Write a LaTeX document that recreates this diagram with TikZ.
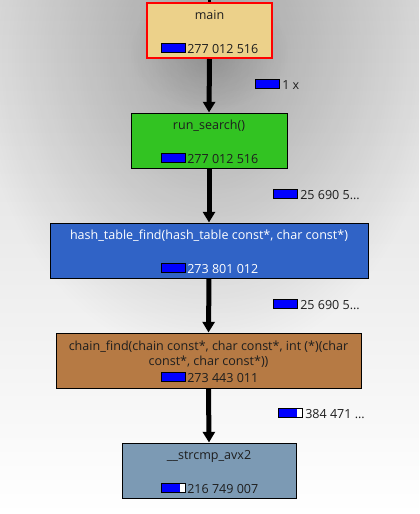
\documentclass[tikz,border=0pt]{standalone}
\usepackage{fontspec}
\setmainfont{Open Sans}
\usetikzlibrary{arrows.meta,fadings}
\tikzfading[name=radfade, inner color=transparent!0, outer color=transparent!100]
\definecolor{bgtop}{HTML}{DADADA}
\definecolor{mainfill}{HTML}{ECD18A}
\definecolor{runfill}{HTML}{32C322}
\definecolor{hashfill}{HTML}{3063C6}
\definecolor{chainfill}{HTML}{B67A44}
\definecolor{strfill}{HTML}{7C9AB4}
\definecolor{barblue}{HTML}{0000FF}
\definecolor{txt}{HTML}{1E1E1E}
\newlength\pxu
\setlength\pxu{0.75pt}
\begin{document}
\begin{tikzpicture}[x=0.75pt,y=-0.75pt,
  fnbox/.style={draw=black, line width=0.75pt, inner sep=0pt, minimum height=55\pxu},
  lbl/.style={font=\fontsize{9.4}{11.25}\selectfont, text=txt, inner sep=0pt, anchor=base},
  cnt/.style={font=\fontsize{9.4}{11.25}\selectfont, text=txt, inner sep=0pt, anchor=base west},
  cbar/.style={draw=black, line width=0.75pt, fill=white, minimum width=24\pxu, minimum height=9\pxu,
    inner sep=0pt, anchor=west,
    path picture={\fill[barblue] (path picture bounding box.south west) rectangle ([xshift=#1*18pt]path picture bounding box.north west);}},
  cbar/.default=1,
  callarrow/.style={line width=3.75pt, -{Triangle[width=9pt,length=8pt]}}
]
\useasboundingbox (0,0) rectangle (419,514);
% background
\fill[top color=bgtop, bottom color=white] (0,0) rectangle (419,514);
\fill[black, fill opacity=0.26, path fading=radfade] (209,60) ellipse [x radius=230, y radius=300];
\fill[black, fill opacity=0.12, path fading=radfade] (209,50) ellipse [x radius=80, y radius=60];

% boxes
\node[fnbox, draw=red, line width=1.5pt, fill=mainfill, minimum width=125\pxu] (main) at (209.5,30.5) {};
\node[fnbox, fill=runfill, minimum width=156\pxu] (run) at (209,140.5) {};
\node[fnbox, fill=hashfill, minimum width=318\pxu] (hash) at (209,250.5) {};
\node[fnbox, fill=chainfill, minimum width=305\pxu] (chain) at (208.5,360.5) {};
\node[fnbox, fill=strfill, minimum width=174\pxu] (strc) at (209,470.5) {};

% connectors
\coordinate (top) at (209.5,0);
\draw[line width=2.25pt] (top) -- (main.north);
\draw[callarrow] (main.south) -- (run.north);
\draw[callarrow] (run.south) -- (hash.north);
\draw[callarrow] (hash.south) -- (chain.north);
\draw[callarrow] (chain.south) -- (strc.north);

% titles
\node[lbl] (mainT) at (209.5,19.5) {main};
\node[lbl] (runT) at (209,129.5) {run\_search()};
\node[lbl, text=white] (hashT) at (209,239) {hash\_table\_find(hash\_table const*, char const*)};
\node[lbl] (chainT1) at (208.5,350) {chain\_find(chain const*, char const*, int (*)(char};
\node[lbl] (chainT2) at (208.5,365) {const*, char const*))};
\node[lbl] (strT) at (209,459) {\_\_strcmp\_avx2};

% counts
\node[cbar=1] (mainB) at (161,47.5) {};
\node[cnt] (mainC) at (187,53) {277 012 516};
\node[cbar=1] (runB) at (161,157.5) {};
\node[cnt] (runC) at (187,163) {277 012 516};
\node[cbar=0.99] (hashB) at (161,267.5) {};
\node[cnt, text=white] (hashC) at (187,273) {273 801 012};
\node[cbar=0.99] (chainB) at (161,377) {};
\node[cnt] (chainC) at (187,382.5) {273 443 011};
\node[cbar=0.79] (strB) at (161,487.5) {};
\node[cnt] (strC) at (187,493) {216 749 007};

% edge labels
\node[cbar=1] (e1B) at (255,84) {};
\node[cnt] (e1) at (282,89) {1 x};
\node[cbar=0.98] (e2B) at (273,194) {};
\node[cnt] (e2) at (300,199) {25 690 5…};
\node[cbar=0.98] (e3B) at (273,304) {};
\node[cnt] (e3) at (300,309) {25 690 5…};
\node[cbar=0.77] (e4B) at (278,413) {};
\node[cnt] (e4) at (305,418) {384 471 …};
\end{tikzpicture}
\end{document}
